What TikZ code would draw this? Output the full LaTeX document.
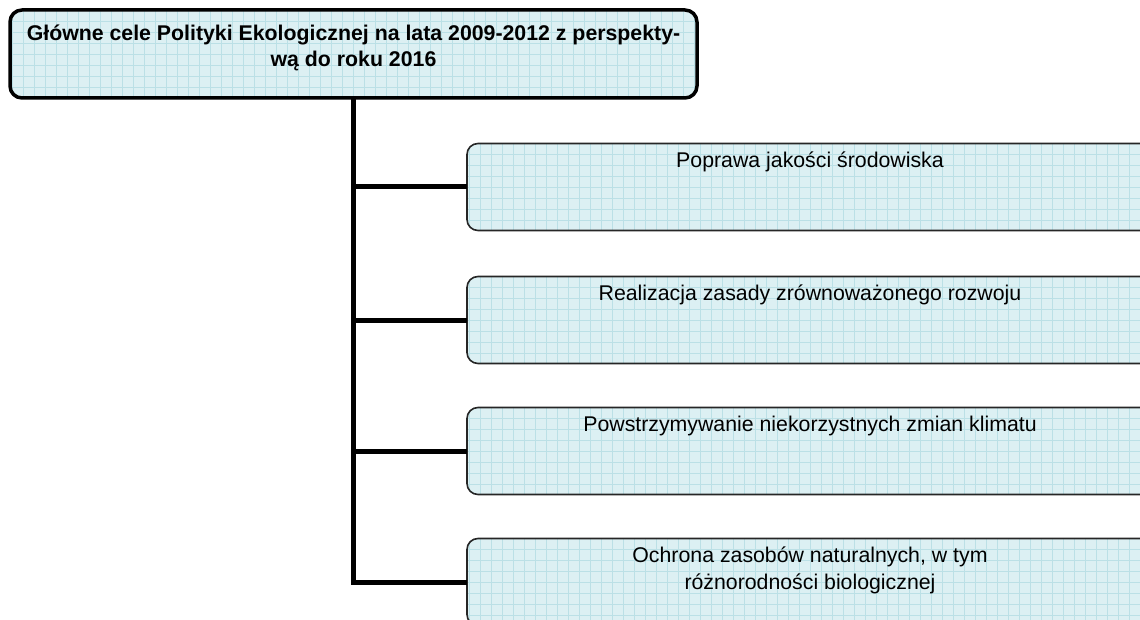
\documentclass[tikz,border=0pt]{standalone}
\usepackage{fontspec}
\setmainfont{Liberation Sans}
\usetikzlibrary{calc}
\definecolor{tlo}{HTML}{DCF0F3}
\definecolor{siatka}{HTML}{BBE0E6}

\begin{document}
\begin{tikzpicture}[x=1pt,y=-1pt,
pole/.style={fill=tlo,outer sep=0pt,inner sep=0pt,
  path picture={\draw[siatka,line width=0.8pt] ([shift={(-11pt,-11pt)}]path picture bounding box.south west) grid[step=11pt] (path picture bounding box.north east);}},
glowny/.style={pole,draw=black,line width=3.5pt,rounded corners=12pt,minimum width=687pt,minimum height=88pt},
cel/.style={pole,draw=black!85,line width=1.6pt,rounded corners=11pt,minimum width=686pt,minimum height=87pt},
napis/.style={anchor=north,align=center,inner sep=0pt,font=\fontsize{21.3}{27.5}\selectfont},
lacznik/.style={line width=5pt}]
\useasboundingbox (0,0) rectangle (1140,620);
\clip (0,0) rectangle (1140,620);
\node[glowny] (cele) at (353.5,54) {};
\node[cel] (cel1) at (810,187) {};
\node[cel] (cel2) at (810,320) {};
\node[cel] (cel3) at (810,451) {};
\node[cel] (cel4) at (810,582) {};
\draw[lacznik] (cele.south) |- (cel4.west);
\foreach \i in {1,2,3}
  \draw[lacznik] (cele.south |- cel\i.west) -- (cel\i.west);
\node[napis,font=\bfseries\fontsize{21.3}{26}\selectfont] (tytul) at ($(cele.north)+(0,15)$) {Główne cele Polityki Ekologicznej na lata 2009-2012 z perspekty-\\wą do roku 2016};
\node[napis] (t1) at ($(cel1.north)+(0,8)$) {Poprawa jakości środowiska};
\node[napis] (t2) at ($(cel2.north)+(0,8)$) {Realizacja zasady zrównoważonego rozwoju};
\node[napis] (t3) at ($(cel3.north)+(0,8)$) {Powstrzymywanie niekorzystnych zmian klimatu};
\node[napis] (t4) at ($(cel4.north)+(0,8)$) {Ochrona zasobów naturalnych, w tym\\różnorodności biologicznej};
\end{tikzpicture}
\end{document}
